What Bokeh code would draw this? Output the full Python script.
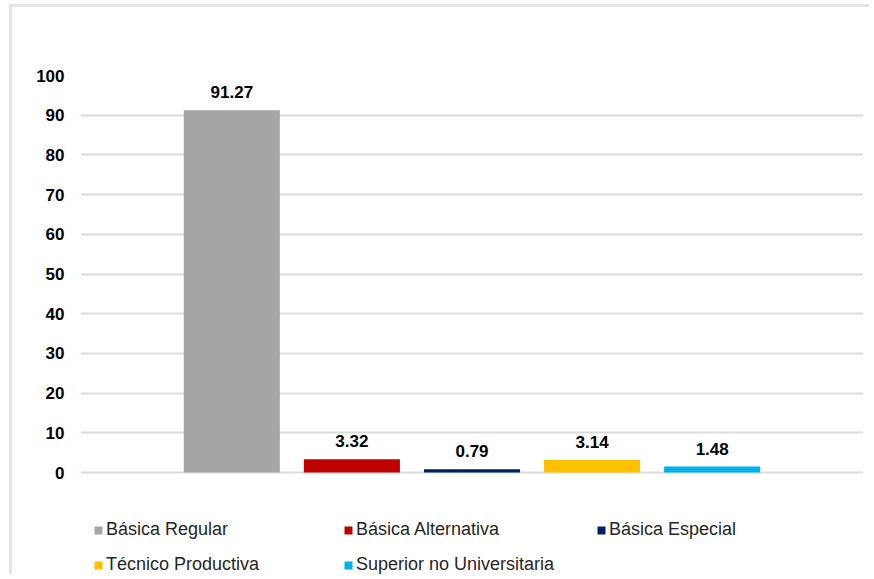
from bokeh.plotting import figure
from bokeh.models import Range1d, FixedTicker, Legend, LegendItem, ColumnDataSource
from bokeh.core.properties import value
from bokeh.embed import file_html
from bokeh.resources import INLINE

categories = ["Básica Regular", "Básica Alternativa", "Básica Especial",
              "Técnico Productiva", "Superior no Universitaria"]
values = [91.27, 3.32, 0.79, 3.14, 1.48]
colors = ["#A5A5A5", "#C00000", "#002060", "#FFC000", "#00B0F0"]
y_ticks = [0, 10, 20, 30, 40, 50, 60, 70, 80, 90, 100]
value_labels = ["91.27", "3.32", "0.79", "3.14", "1.48"]

FONT = "Liberation Sans"

# layout (pixels)
W, H = 860, 570
TOP, LEFT, RIGHT = 68, 68, 9
AXIS_PX = 397.0          # pixels from 0 to 100
frame_h = H - TOP
y_start = 100 - 100 * frame_h / AXIS_PX

p = figure(width=W, height=H, output_backend="svg", toolbar_location=None,
           x_range=Range1d(-1.26, 5.26), y_range=Range1d(y_start, 100),
           min_border_left=LEFT, min_border_right=RIGHT, min_border_top=TOP,
           min_border_bottom=0)
p.styles = {"border-top": "3px solid #e4e4e4", "border-left": "3px solid #e4e4e4",
            "margin-left": "9px", "margin-top": "4px"}
p.outline_line_color = None
p.background_fill_color = "white"
p.border_fill_color = "white"

p.xaxis.visible = False
p.xgrid.visible = False
p.yaxis.ticker = FixedTicker(ticks=y_ticks)
p.yaxis.axis_line_color = None
p.yaxis.major_tick_line_color = None
p.yaxis.minor_tick_line_color = None
p.yaxis.major_label_standoff = 10
p.yaxis.major_label_text_font = FONT
p.yaxis.major_label_text_font_style = "bold"
p.yaxis.major_label_text_font_size = "17px"
p.yaxis.major_label_text_color = "#000000"
p.ygrid.ticker = FixedTicker(ticks=y_ticks)
p.ygrid.grid_line_color = "#dcdcdc"
p.ygrid.grid_line_width = 2

xs = list(range(len(categories)))
renderers = []
for i, (cat, v, c) in enumerate(zip(categories, values, colors)):
    src = ColumnDataSource(dict(x=[xs[i]], top=[v]))
    r = p.vbar(x="x", top="top", bottom=0, width=0.8, source=src,
               fill_color=c, line_color=None)
    renderers.append(r)

lab_src = ColumnDataSource(dict(x=xs, y=values, t=value_labels))
p.text(x="x", y="y", text="t", source=lab_src, text_align="center",
       text_baseline="bottom", y_offset=-12, text_font=value(FONT),
       text_font_style="bold", text_font_size="17px", text_color="#000000")

col_x = [13, 263, 516]
row_y = [37, 2]
positions = [(col_x[0], row_y[0]), (col_x[1], row_y[0]), (col_x[2], row_y[0]),
             (col_x[0], row_y[1]), (col_x[1], row_y[1])]
for cat, r, loc in zip(categories, renderers, positions):
    lg = Legend(items=[LegendItem(label=cat, renderers=[r])], location=loc,
                padding=0, margin=0, spacing=0, border_line_color=None,
                background_fill_alpha=0, glyph_width=10, glyph_height=10,
                label_standoff=3, label_text_font=FONT,
                label_text_font_size="18px", label_text_color="#262626",
                label_height=20)
    p.add_layout(lg, "center")

open("out.html", "w").write(file_html(p, INLINE))
